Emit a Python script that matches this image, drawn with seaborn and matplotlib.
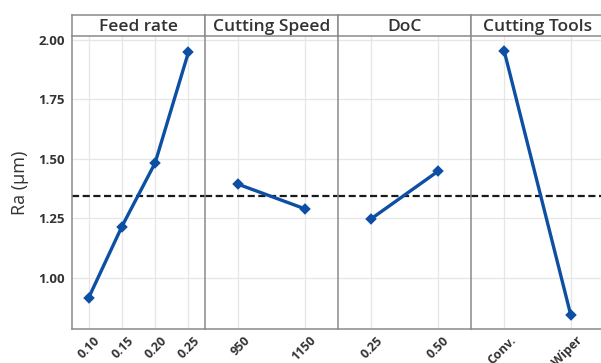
import matplotlib
matplotlib.use("Agg")
import matplotlib.pyplot as plt
import matplotlib.transforms as mtransforms
import seaborn as sns
import pandas as pd

# Main effects of machining factors on surface roughness
factors = ["Feed rate", "Cutting Speed", "DoC", "Cutting Tools"]
feed_levels = ["0.10", "0.15", "0.20", "0.25"]
feed_ra = [0.915, 1.215, 1.483, 1.948]
speed_levels = ["950", "1150"]
speed_ra = [1.393, 1.290]
doc_levels = ["0.25", "0.50"]
doc_ra = [1.248, 1.447]
tool_levels = ["Conv.", "Wiper"]
tool_ra = [1.953, 0.843]
overall_mean = 1.345

y_ticks = [1.00, 1.25, 1.50, 1.75, 2.00]
y_tick_labels = ["1.00", "1.25", "1.50", "1.75", "2.00"]

panels = [
    (factors[0], feed_levels, feed_ra),
    (factors[1], speed_levels, speed_ra),
    (factors[2], doc_levels, doc_ra),
    (factors[3], tool_levels, tool_ra),
]

sns.set_theme(style="white")
plt.rcParams["font.family"] = ["Open Sans", "DejaVu Sans"]

W, H = 601, 363
fig = plt.figure(figsize=(W / 100, H / 100), dpi=100)

left_px, panel_w, top_px, bottom_px, strip_top = 72, 133, 36, 329, 15
line_color = "#0d4fa3"
frame_color = "#8a8a8a"
grid_color = "#e6e6e6"
text_color = "#333333"

# shift rotated x labels a little to the right of their ticks
label_shift = mtransforms.ScaledTranslation(5 / 100, 0, fig.dpi_scale_trans)

axes = []
for i, (name, levels, values) in enumerate(panels):
    x0 = (left_px + i * panel_w) / W
    ax = fig.add_axes([x0, 1 - bottom_px / H, panel_w / W, (bottom_px - top_px) / H])
    df = pd.DataFrame({"level": levels, "Ra": values})
    sns.pointplot(data=df, x="level", y="Ra", order=levels, ax=ax,
                  color=line_color, markers="D", markersize=4.5,
                  linewidth=2.4, errorbar=None)
    ax.set_xlim(-0.5, len(levels) - 0.5)
    ax.set_ylim(0.784, 2.017)
    ax.axhline(overall_mean, color="#1a1a1a", linestyle=(0, (3.2, 1.6)),
               linewidth=1.6, zorder=1)
    ax.set_yticks(y_ticks)
    ax.grid(True, color=grid_color, linewidth=0.9, zorder=0)
    ax.set_axisbelow(True)
    ax.set_xlabel("")
    ax.set_ylabel("")
    for s in ["top", "right"]:
        ax.spines[s].set_visible(False)
    ax.spines["left"].set_color(frame_color)
    ax.spines["bottom"].set_color(frame_color)
    ax.spines["left"].set_linewidth(1.1)
    ax.spines["bottom"].set_linewidth(1.1)
    ax.tick_params(axis="x", length=3, width=0.8, color=frame_color,
                   labelsize=9, labelcolor=text_color, pad=0.5)
    for lab in ax.get_xticklabels():
        lab.set_rotation(45)
        lab.set_ha("right")
        lab.set_va("top")
        lab.set_rotation_mode("anchor")
        lab.set_fontweight("bold")
        lab.set_transform(lab.get_transform() + label_shift)
    if i == 0:
        ax.set_yticklabels(y_tick_labels)
        ax.tick_params(axis="y", length=3, width=0.8, color=frame_color,
                       labelsize=9.5, labelcolor=text_color, pad=2)
        for lab in ax.get_yticklabels():
            lab.set_fontweight("bold")
        ax.set_ylabel("Ra (µm)", fontsize=13, color=text_color, labelpad=7)
    else:
        ax.tick_params(axis="y", length=0, labelleft=False)
    axes.append(ax)

    # facet header
    sax = fig.add_axes([x0, 1 - top_px / H, panel_w / W, (top_px - strip_top) / H])
    sax.set_xticks([])
    sax.set_yticks([])
    for s in sax.spines.values():
        s.set_color(frame_color)
        s.set_linewidth(1.1)
    sax.set_facecolor("white")
    sax.text(0.5, 0.42, name, ha="center", va="center", fontsize=12.5,
             fontweight=600, color=text_color, transform=sax.transAxes)

fig.savefig("out.png", dpi=100)
